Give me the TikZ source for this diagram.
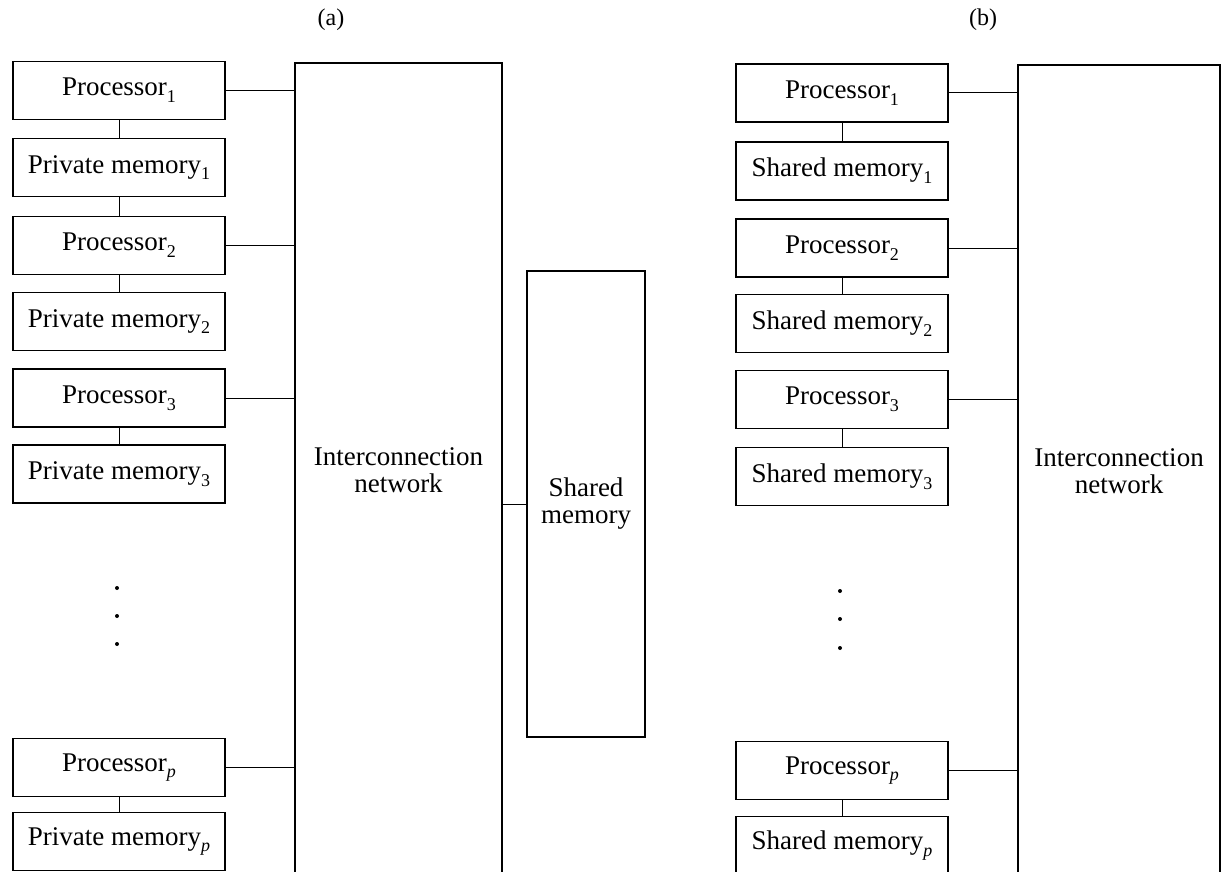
\documentclass[tikz,border=0pt]{standalone}
\usepackage{fontspec}
\setmainfont{Liberation Serif}
\newcommand\lowsub[1]{\raisebox{-0.55ex}{\fontsize{18}{18}\selectfont #1}}
\begin{document}
\begin{tikzpicture}[x=1pt,y=-1pt,
  unit/.style={draw, line width=1.6pt, minimum width=212pt, minimum height=58pt, inner sep=0pt, outer sep=0pt, font=\fontsize{27}{29}\selectfont},
  bigbox/.style={draw, line width=1.5pt, inner sep=0pt, outer sep=0pt, align=center, font=\fontsize{27}{27}\selectfont},
  link/.style={line width=1pt},
  vdot/.style={circle, fill, inner sep=0pt, minimum size=4pt},
  lab/.style={font=\fontsize{24}{26}\selectfont}]
\useasboundingbox (0,0) rectangle (1221,872);
\clip (0,0) rectangle (1221,872);
% (a)
\node[lab] (la) at (331,20) {(a)};
\node[unit] (ap1) at (119,90.5) {Processor\lowsub{1}};
\node[unit] (am1) at (119,167.5) {Private memory\lowsub{1}};
\node[unit] (ap2) at (119,245.5) {Processor\lowsub{2}};
\node[unit] (am2) at (119,321.5) {Private memory\lowsub{2}};
\node[unit] (ap3) at (119,398) {Processor\lowsub{3}};
\node[unit] (am3) at (119,474) {Private memory\lowsub{3}};
\node[unit] (app) at (119,767.5) {Processor\lowsub{\textit{p}}};
\node[unit] (amp) at (119,841.5) {Private memory\lowsub{\textit{p}}};
\node[vdot] (ad1) at (117,588) {};
\node[vdot] (ad2) at (117,616) {};
\node[vdot] (ad3) at (117,644) {};
\node[bigbox, minimum width=207pt, minimum height=814pt] (neta) at (398.5,470) {Interconnection\\network};
\node[bigbox, minimum width=118pt, minimum height=466pt] (sm) at (586,504) {Shared\\memory};
\foreach \n in {ap1,ap2,ap3,app}
  \draw[link] (\n.east) -- (\n.east -| neta.west);
\draw[link] (ap1) -- (am1);
\draw[link] (am1) -- (ap2);
\draw[link] (ap2) -- (am2);
\draw[link] (ap3) -- (am3);
\draw[link] (app) -- (amp);
\draw[link] (sm.west) -- (sm.west -| neta.east);
% (b)
\node[lab] (lb) at (983,20) {(b)};
\node[unit] (bp1) at (842,93) {Processor\lowsub{1}};
\node[unit] (bm1) at (842,171) {Shared memory\lowsub{1}};
\node[unit] (bp2) at (842,248) {Processor\lowsub{2}};
\node[unit] (bm2) at (842,323.5) {Shared memory\lowsub{2}};
\node[unit] (bp3) at (842,399.5) {Processor\lowsub{3}};
\node[unit] (bm3) at (842,476.5) {Shared memory\lowsub{3}};
\node[unit] (bpp) at (842,770.5) {Processor\lowsub{\textit{p}}};
\node[unit] (bmp) at (842,845.5) {Shared memory\lowsub{\textit{p}}};
\node[vdot] (bd1) at (840,591) {};
\node[vdot] (bd2) at (840,619) {};
\node[vdot] (bd3) at (840,648) {};
\node[bigbox, minimum width=202pt, minimum height=812pt] (netb) at (1119,471) {Interconnection\\network};
\foreach \n in {bp1,bp2,bp3,bpp}
  \draw[link] (\n.east) -- (\n.east -| netb.west);
\draw[link] (bp1) -- (bm1);
\draw[link] (bp2) -- (bm2);
\draw[link] (bp3) -- (bm3);
\draw[link] (bpp) -- (bmp);
\end{tikzpicture}
\end{document}
